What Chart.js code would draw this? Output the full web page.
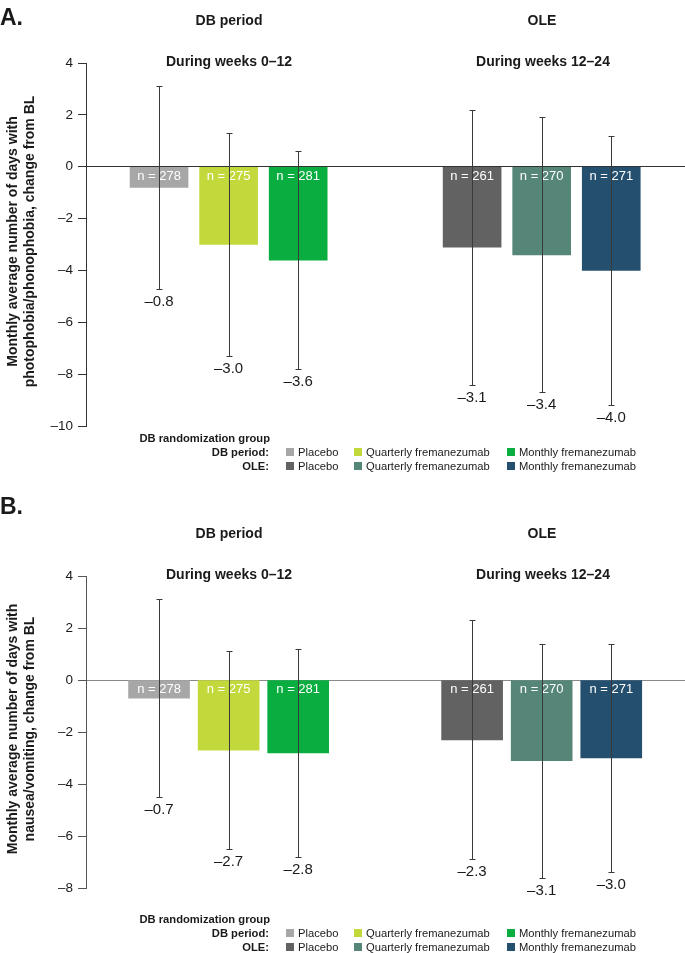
<!DOCTYPE html>
<html>
<head>
<meta charset="utf-8">
<script src="https://cdn.jsdelivr.net/npm/chart.js@4.4.1/dist/chart.umd.min.js"></script>
<style>
  html, body { margin: 0; padding: 0; background: #fff; }
  body { width: 685px; height: 953px; position: relative; overflow: hidden;
         font-family: "Liberation Sans", Arial, sans-serif; color: #1a1a1a; }
  .panel { position: absolute; left: 0; width: 685px; }
  .panel canvas { position: absolute; left: 0; top: 0; }
  .t { position: absolute; white-space: nowrap; transform: translate(-50%, -50%); }
  .letter { position: absolute; left: 0; font-weight: bold; font-size: 23px; transform: translateY(-50%); }
  .head { font-weight: bold; font-size: 14px; }
  .lg { position: absolute; font-size: 11.2px; white-space: nowrap; transform: translateY(-50%); }
  .lg.b { font-weight: bold; transform: translate(-100%, -50%); }
  .sw { position: absolute; width: 8px; height: 8px; transform: translateY(-50%); }
</style>
</head>
<body>
<div class="panel" id="panelA" style="top:0;height:476px">
  <canvas id="chartA" width="685" height="476"></canvas>
</div>
<div class="panel" id="panelB" style="top:476px;height:477px">
  <canvas id="chartB" width="685" height="477"></canvas>
</div>
<script>
// 데이터
const groups = ['Placebo', 'Quarterly fremanezumab', 'Monthly fremanezumab'];
const periods = ['DB period', 'OLE'];
const subtitles = ['During weeks 0–12', 'During weeks 12–24'];
const nCounts = [278, 275, 281, 261, 270, 271];

// A. photophobia/phonophobia
const meansA = [-0.8, -3.0, -3.6, -3.1, -3.4, -4.0];
const lowerA = [-4.7, -7.3, -7.8, -8.4, -8.7, -9.2];
const upperA = [3.1, 1.3, 0.6, 2.2, 1.9, 1.2];
const yTitleA = ['Monthly average number of days with', 'photophobia/phonophobia, change from BL'];

// B. nausea/vomiting
const meansB = [-0.7, -2.7, -2.8, -2.3, -3.1, -3.0];
const lowerB = [-4.5, -6.5, -6.8, -6.9, -7.6, -7.4];
const upperB = [3.1, 1.1, 1.2, 2.3, 1.4, 1.4];
const yTitleB = ['Monthly average number of days with', 'nausea/vomiting, change from BL'];

const barColors = ['#a7a7a7', '#c3d93b', '#0aae40', '#626262', '#568677', '#244f6e'];

// 레이아웃 (막대 위치 슬롯)
const xSlots = [1, 2, 3, 5.5, 6.5, 7.5];
const FONT = '"Liberation Sans", Arial, sans-serif';

function fmt(v) {
    return v < 0 ? '–' + Math.abs(v).toFixed(1) : v.toFixed(1);
}

const errorBarPlugin = {
    id: 'errorBars',
    afterDatasetsDraw(chart) {
        const o = chart.options.plugins.errorBars;
        const ctx = chart.ctx;
        const y = chart.scales.y;
        const meta = chart.getDatasetMeta(0);
        const zero = y.getPixelForValue(0);
        ctx.save();
        meta.data.forEach((bar, i) => {
            // n 라벨
            ctx.fillStyle = '#ffffff';
            ctx.font = '13px ' + FONT;
            ctx.textAlign = 'center';
            ctx.textBaseline = 'middle';
            ctx.fillText('n = ' + nCounts[i], bar.x, zero + 9.5);

            // 오차 막대
            const top = Math.round(y.getPixelForValue(o.upper[i])) + 0.5;
            const bot = Math.round(y.getPixelForValue(o.lower[i])) + 0.5;
            const x = Math.round(bar.x) + 0.5;
            ctx.strokeStyle = '#3a3a3a';
            ctx.lineWidth = 1;
            ctx.beginPath();
            ctx.moveTo(x, top); ctx.lineTo(x, bot);
            ctx.moveTo(x - 3, top); ctx.lineTo(x + 3, top);
            ctx.moveTo(x - 3, bot); ctx.lineTo(x + 3, bot);
            ctx.stroke();

            // 값 라벨
            ctx.fillStyle = '#1a1a1a';
            ctx.font = '15px ' + FONT;
            ctx.fillText(fmt(o.means[i]), bar.x, bot + 12.5);
        });

        // y축 제목
        const cy = (chart.chartArea.top + chart.chartArea.bottom) / 2 - 3;
        ctx.font = 'bold 14px ' + FONT;
        ctx.fillStyle = '#1a1a1a';
        ctx.textBaseline = 'alphabetic';
        o.yTitle.forEach((line, k) => {
            ctx.save();
            ctx.translate(k === 0 ? 17 : 33.5, cy);
            ctx.rotate(-Math.PI / 2);
            ctx.fillText(line, 0, 0);
            ctx.restore();
        });
        ctx.restore();
    }
};

function createPanel(canvasId, cfg) {
    return new Chart(document.getElementById(canvasId), {
        type: 'bar',
        data: {
            datasets: [{
                data: cfg.means.map((v, i) => ({ x: xSlots[i], y: v })),
                backgroundColor: barColors,
                borderWidth: 0,
                barThickness: cfg.barWidth
            }]
        },
        options: {
            responsive: false,
            animation: false,
            layout: { padding: { top: cfg.padTop, bottom: cfg.padBottom, left: 0, right: 0 } },
            plugins: {
                legend: { display: false },
                tooltip: { enabled: false },
                errorBars: { means: cfg.means, lower: cfg.lower, upper: cfg.upper, yTitle: cfg.yTitle }
            },
            scales: {
                x: {
                    type: 'linear',
                    display: false,
                    min: -0.05,
                    max: 8.56,
                    offset: false
                },
                y: {
                    min: cfg.yMin,
                    max: 4,
                    afterFit: (axis) => { axis.width = 86; },
                    border: { display: true, color: cfg.axisColor, width: 1 },
                    grid: {
                        drawOnChartArea: true,
                        color: (c) => c.tick && c.tick.value === 0 ? cfg.zeroColor : 'transparent',
                        tickColor: cfg.axisColor,
                        tickLength: 8
                    },
                    ticks: {
                        stepSize: 2,
                        padding: 5,
                        color: '#1a1a1a',
                        font: { size: 13.5, family: FONT },
                        callback: (v) => v < 0 ? '–' + Math.abs(v) : String(v)
                    }
                }
            }
        },
        plugins: [errorBarPlugin]
    });
}

function addText(panel, cls, text, x, y) {
    const d = document.createElement('div');
    d.className = cls;
    d.textContent = text;
    d.style.left = x + 'px';
    d.style.top = y + 'px';
    panel.appendChild(d);
    return d;
}

function addHeaders(panelId, letter, letterY, periodY, subY) {
    const p = document.getElementById(panelId);
    addText(p, 'letter', letter, 0, letterY);
    const cx = [229, 542];
    periods.forEach((t, i) => addText(p, 't head', t, cx[i], periodY));
    subtitles.forEach((t, i) => addText(p, 't head', t, cx[i] + (i ? 1 : 0), subY));
}

function addLegend(panelId, y0) {
    const p = document.getElementById(panelId);
    addText(p, 'lg b', 'DB randomization group', 270, y0);
    const rows = ['DB period:', 'OLE:'];
    const swX = [286, 354, 507];
    rows.forEach((r, ri) => {
        const yy = y0 + 14 * (ri + 1);
        addText(p, 'lg b', r, 269, yy);
        groups.forEach((g, gi) => {
            const s = document.createElement('div');
            s.className = 'sw';
            s.style.left = swX[gi] + 'px';
            s.style.top = yy + 'px';
            s.style.background = barColors[ri * 3 + gi];
            p.appendChild(s);
            addText(p, 'lg', g, swX[gi] + 12, yy);
        });
    });
}

addHeaders('panelA', 'A.', 17, 20, 61);
addHeaders('panelB', 'B.', 30, 57, 98);
addLegend('panelA', 438);
addLegend('panelB', 443);

createPanel('chartA', {
    means: meansA, lower: lowerA, upper: upperA, yTitle: yTitleA,
    yMin: -10, padTop: 63, padBottom: 50, barWidth: 58,
    axisColor: '#333333', zeroColor: '#333333'
});
createPanel('chartB', {
    means: meansB, lower: lowerB, upper: upperB, yTitle: yTitleB,
    yMin: -8, padTop: 100, padBottom: 65, barWidth: 61,
    axisColor: '#555555', zeroColor: '#8a8a8a'
});
</script>
</body>
</html>
